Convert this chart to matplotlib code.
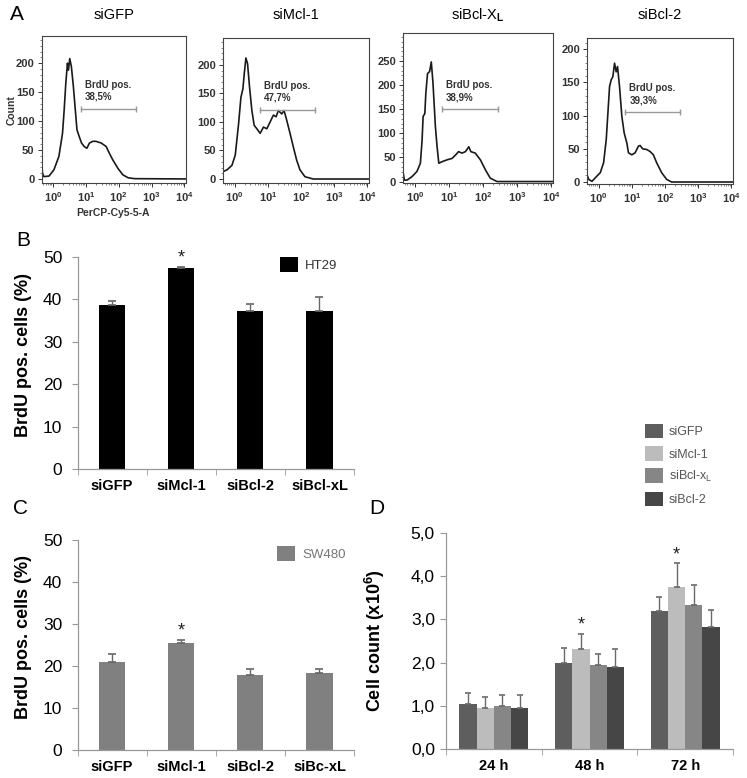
import numpy as np
import matplotlib
matplotlib.use("Agg")
import matplotlib.pyplot as plt
from matplotlib.ticker import MultipleLocator, FixedLocator, NullFormatter

plt.rcParams['font.family'] = ['Liberation Sans', 'DejaVu Sans']
plt.rcParams['mathtext.fontset'] = 'custom'
plt.rcParams['mathtext.rm'] = 'Liberation Sans'
plt.rcParams['mathtext.bf'] = 'Liberation Sans:bold'

W, H = 747, 778

# ---------- Panel A: BrdU histograms (x in log10 decades, y = count) ----------
hist_titles = ["siGFP", "siMcl-1", r"siBcl-X$_\mathbf{L}$", "siBcl-2"]

gfp_log = [-0.35, -0.32, -0.28, -0.12, 0.03, 0.18, 0.29, 0.34, 0.39, 0.44, 0.47, 0.51, 0.56, 0.62,
           0.68, 0.73, 0.80, 0.87, 0.95, 1.03, 1.11, 1.21, 1.31, 1.47, 1.62, 1.72, 1.82, 1.98, 2.13,
           2.29, 2.49, 4.05]
gfp_count = [35, 10, 4, 5, 16, 39, 79, 119, 165, 200, 188, 208, 194, 160,
             119, 85, 73, 62, 56, 53, 62, 65, 65, 62, 56, 44, 33, 18, 7,
             2, 0.5, 0]

mcl1_log = [-0.35, -0.23, -0.08, 0.02, 0.12, 0.19, 0.25, 0.29, 0.34, 0.39, 0.45, 0.52, 0.59, 0.67,
            0.77, 0.87, 0.97, 1.07, 1.17, 1.25, 1.32, 1.42, 1.49, 1.57, 1.67, 1.77, 1.87, 1.97,
            2.12, 2.37, 4.05]
mcl1_count = [13, 16, 24, 42, 97, 143, 158, 184, 212, 202, 161, 120, 94, 88,
              80, 91, 88, 100, 112, 109, 120, 114, 120, 103, 80, 56, 33, 16,
              4, 0, 0]

bclxl_log = [-0.35, -0.31, -0.23, -0.09, 0.06, 0.16, 0.21, 0.24, 0.29, 0.32, 0.37, 0.43, 0.48, 0.53,
             0.60, 0.65, 0.70, 0.79, 0.94, 1.09, 1.19, 1.28, 1.38, 1.48, 1.58, 1.64, 1.77, 1.92,
             2.07, 2.21, 2.41, 4.05]
bclxl_count = [21, 3, 3, 10, 21, 38, 86, 135, 141, 183, 224, 228, 248, 204,
               114, 72, 38, 41, 45, 48, 55, 62, 59, 62, 72, 62, 59, 45,
               24, 7, 0, 0]

bcl2_log = [-0.35, -0.30, -0.20, -0.05, 0.05, 0.15, 0.23, 0.28, 0.33, 0.38, 0.43, 0.48, 0.53, 0.57,
            0.63, 0.70, 0.77, 0.85, 0.90, 1.00, 1.10, 1.20, 1.25, 1.33, 1.45, 1.55, 1.65, 1.75,
            1.90, 2.05, 2.20, 4.05]
bcl2_count = [11, 4, 1, 9, 14, 29, 64, 104, 144, 154, 159, 179, 166, 174,
              144, 99, 74, 59, 44, 41, 44, 54, 55, 50, 49, 46, 41, 29,
              14, 4, 0, 0]

gate_lo = [0.85, 0.77, 0.79, 0.80]
gate_hi = [2.52, 2.42, 2.43, 2.45]
gate_level = [121, 121, 150, 105]
gate_pct = ["38,5%", "47,7%", "38,9%", "39,3%"]
hist_ylim = [(-7, 247), (-7, 247), (-3, 308), (-3, 217)]
hist_yticks = [[0, 50, 100, 150, 200], [0, 50, 100, 150, 200],
               [0, 50, 100, 150, 200, 250], [0, 50, 100, 150, 200]]

# ---------- Panel B / C: BrdU positive cells ----------
b_labels = ["siGFP", "siMcl-1", "siBcl-2", "siBcl-xL"]
ht29_mean = [38.6, 47.5, 37.3, 37.3]
ht29_err = [1.1, 0.2, 1.6, 3.3]
ht29_sig = [False, True, False, False]

c_labels = ["siGFP", "siMcl-1", "siBcl-2", "siBc-xL"]
sw480_mean = [21.0, 25.5, 17.8, 18.3]
sw480_err = [1.9, 0.7, 1.5, 1.0]
sw480_sig = [False, True, False, False]

# ---------- Panel D: cell count ----------
time_labels = ["24 h", "48 h", "72 h"]
d_names = ["siGFP", "siMcl-1", r"siBcl-x$_\mathregular{L}$", "siBcl-2"]
d_mean = [[1.04, 1.98, 3.20],
          [0.95, 2.32, 3.74],
          [0.99, 1.95, 3.33],
          [0.96, 1.90, 2.83]]
d_err = [[0.26, 0.35, 0.31],
         [0.25, 0.35, 0.56],
         [0.25, 0.24, 0.47],
         [0.28, 0.41, 0.38]]
d_sig = [[False, False, False],
         [False, True, True],
         [False, False, False],
         [False, False, False]]
d_colors = ["#5e5e5e", "#bcbcbc", "#868686", "#464646"]


def px_box(l, t, r, b):
    return [l / W, 1 - b / H, (r - l) / W, (b - t) / H]


fig = plt.figure(figsize=(W / 100, H / 100), dpi=100)

# ---------- draw panel A ----------
hist_boxes = [(41.5, 36, 186, 183), (223, 38, 369, 183), (403, 33, 553, 183), (587, 38, 733, 184)]
hist_data = [(gfp_log, gfp_count), (mcl1_log, mcl1_count),
             (bclxl_log, bclxl_count), (bcl2_log, bcl2_count)]

for i, (lx, cy) in enumerate(hist_data):
    ax = fig.add_axes(px_box(*hist_boxes[i]))
    ax.plot(np.power(10.0, lx), cy, color="#1a1a1a", lw=1.2)
    ax.set_xscale("log")
    ax.set_xlim(10 ** -0.35, 10 ** 4.05)
    ax.set_ylim(*hist_ylim[i])
    ax.set_xticks([1, 10, 100, 1000, 10000])
    ax.set_xticklabels([r"10$^\mathregular{%d}$" % k for k in range(5)])
    ax.xaxis.set_minor_locator(FixedLocator(
        [m * 10 ** k for k in range(-1, 4) for m in range(2, 10)]))
    ax.xaxis.set_minor_formatter(NullFormatter())
    ax.set_yticks(hist_yticks[i])
    ax.yaxis.set_minor_locator(MultipleLocator(10))
    ax.tick_params(which="major", length=3, width=0.7, labelsize=8, pad=2, colors="#333")
    ax.tick_params(which="minor", length=1.5, width=0.5, colors="#555")
    for lab in ax.get_xticklabels() + ax.get_yticklabels():
        lab.set_fontweight("bold")
    for s in ax.spines.values():
        s.set_color("#444")
        s.set_linewidth(0.8)
    # gate
    ax.plot([10 ** gate_lo[i], 10 ** gate_hi[i]], [gate_level[i]] * 2,
            color="#999999", lw=1.0, marker="|", markersize=5, markeredgewidth=1.0)
    ax.annotate("BrdU pos.\n" + gate_pct[i], xy=(10 ** gate_lo[i], gate_level[i]),
                xytext=(3, 5), textcoords="offset points", ha="left", va="bottom",
                fontsize=7, fontweight="bold", color="#333", linespacing=1.3)
    cx = (hist_boxes[i][0] + hist_boxes[i][2]) / 2
    fig.text(cx / W, 1 - 15 / H, hist_titles[i], ha="center", va="center", fontsize=10.5)

fig.text(12 / W, 1 - 110 / H, "Count", rotation=90, ha="center", va="center",
         fontsize=7.5, fontweight="bold", color="#333")
fig.text(113 / W, 1 - 213 / H, "PerCP-Cy5-5-A", ha="center", va="center",
         fontsize=7.5, fontweight="bold", color="#333")


def bar_panel(box, labels, mean, err, sig, color, legend_name, legend_pos, text_color):
    ax = fig.add_axes(px_box(*box))
    x = np.arange(len(labels))
    ax.bar(x, mean, width=0.38, color=color, label=legend_name, zorder=2)
    ax.errorbar(x, mean, yerr=[np.zeros(len(err)), err], fmt="none", ecolor="#666",
                elinewidth=1.0, capsize=3, capthick=1.2, zorder=3)
    for xi, m, e, s in zip(x, mean, err, sig):
        if s:
            ax.annotate("*", xy=(xi, m + e), xytext=(0, 3), textcoords="offset points",
                        ha="center", va="baseline", fontsize=13, color="#222")
    ax.set_xlim(-0.5, len(labels) - 0.5)
    ax.set_ylim(0, 50)
    ax.set_yticks(range(0, 51, 10))
    ax.set_xticks(x)
    ax.set_xticklabels(labels, fontweight="bold", fontsize=10.5)
    ax.xaxis.set_minor_locator(FixedLocator(np.arange(len(labels) + 1) - 0.5))
    ax.tick_params(axis="x", which="major", length=0, pad=7)
    ax.tick_params(axis="x", which="minor", length=4, color="#999")
    ax.tick_params(axis="y", length=4, color="#999", labelsize=12.5, pad=7)
    for s in ["top", "right"]:
        ax.spines[s].set_visible(False)
    for s in ["left", "bottom"]:
        ax.spines[s].set_color("#999")
        ax.spines[s].set_linewidth(0.9)
    ax.set_ylabel("BrdU pos. cells (%)", fontweight="bold", fontsize=13)
    ax.yaxis.set_label_coords(-0.165, 0.54)
    leg = ax.legend(loc="upper left", bbox_to_anchor=legend_pos, borderaxespad=0, borderpad=0,
                    frameon=False, handlelength=1.4, handleheight=1.4, handletextpad=0.5,
                    fontsize=9.5)
    for t in leg.get_texts():
        t.set_color(text_color)
    return ax


bar_panel((77.5, 257, 354, 469), b_labels, ht29_mean, ht29_err, ht29_sig, "black",
          "HT29", ((280 - 77.5) / 276.5, 1.0), "#333")
bar_panel((77.5, 540, 354, 750), c_labels, sw480_mean, sw480_err, sw480_sig, "#808080",
          "SW480", ((277 - 77.5) / 276.5, 1 - 6 / 210), "#777")

# ---------- draw panel D ----------
axd = fig.add_axes(px_box(446, 533, 733, 749))
xg = np.arange(len(time_labels))
bw = 0.18
handles = []
for i in range(len(d_names)):
    pos = xg + (i - 1.5) * bw
    h = axd.bar(pos, d_mean[i], width=bw, color=d_colors[i], label=d_names[i], zorder=2)
    handles.append(h)
    axd.errorbar(pos, d_mean[i], yerr=[np.zeros(3), d_err[i]], fmt="none", ecolor="#6a6a6a",
                 elinewidth=1.0, capsize=2.5, capthick=1.2, zorder=3)
    for p, m, e, s in zip(pos, d_mean[i], d_err[i], d_sig[i]):
        if s:
            axd.annotate("*", xy=(p, m + e), xytext=(0, 3), textcoords="offset points",
                         ha="center", va="baseline", fontsize=13, color="#222")
axd.set_xlim(-0.5, len(time_labels) - 0.5)
axd.set_ylim(0, 5)
axd.set_yticks(np.arange(0, 5.01, 1.0))
axd.set_yticklabels([("%.1f" % v).replace(".", ",") for v in np.arange(0, 5.01, 1.0)])
axd.set_xticks(xg)
axd.set_xticklabels(time_labels, fontweight="bold", fontsize=10.5)
axd.xaxis.set_minor_locator(FixedLocator(np.arange(len(time_labels) + 1) - 0.5))
axd.tick_params(axis="x", which="major", length=0, pad=7)
axd.tick_params(axis="x", which="minor", length=4, color="#999")
axd.tick_params(axis="y", length=4, color="#999", labelsize=12.5, pad=4)
for s in ["top", "right"]:
    axd.spines[s].set_visible(False)
for s in ["left", "bottom"]:
    axd.spines[s].set_color("#999")
    axd.spines[s].set_linewidth(0.9)
axd.set_ylabel(r"Cell count (x10$^\mathbf{6}$)", fontweight="bold", fontsize=13)
axd.yaxis.set_label_coords(-0.205, 0.5)

legd = fig.legend(handles=handles, labels=d_names, loc="upper left",
                  bbox_to_anchor=(645 / W, 1 - 424 / H), borderaxespad=0, borderpad=0,
                  frameon=False, handlelength=1.4, handleheight=1.4, handletextpad=0.5,
                  labelspacing=0.62, fontsize=9)
for t in legd.get_texts():
    t.set_color("#555")

# panel letters
for letter, (px, py) in zip("ABCD", [(17, 14), (23, 240), (21, 509), (377, 509)]):
    fig.text(px / W, 1 - py / H, letter, ha="center", va="center", fontsize=15)

fig.savefig("out.png", dpi=100)
